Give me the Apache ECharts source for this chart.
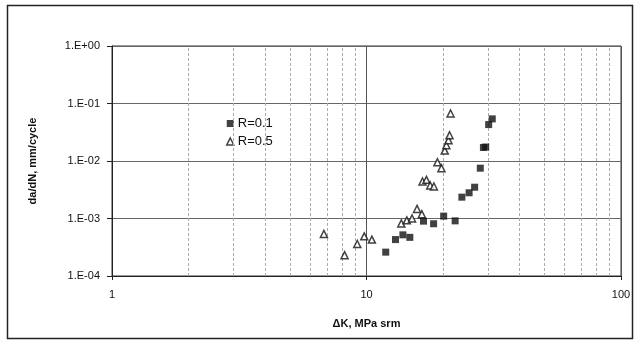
<!DOCTYPE html>
<html>
<head>
<meta charset="utf-8">
<script src="https://cdn.jsdelivr.net/npm/echarts@6/dist/echarts.min.js"></script>
<style>
  html, body { margin: 0; padding: 0; background: #fff; }
  #chart { width: 637px; height: 344px; }
</style>
</head>
<body>
<div id="chart"></div>
<script>
// R=0.1 (filled squares)
const r01X = [11.9, 13.0, 13.9, 14.8, 16.75, 18.35, 20.1, 22.3, 23.7, 25.3, 26.6, 28.0, 28.8, 29.4, 30.2, 31.2]
const r01Y = [2.6e-4, 4.3e-4, 5.2e-4, 4.7e-4, 9.0e-4, 8.1e-4, 1.1e-3, 9.1e-4, 2.35e-3, 2.8e-3, 3.5e-3, 7.5e-3, 1.72e-2, 1.75e-2, 4.3e-2, 5.4e-2]
// R=0.5 (open triangles)
const r05X = [6.8, 8.2, 9.2, 9.8, 10.5, 13.7, 14.4, 15.1, 15.8, 16.5, 16.6, 17.2, 17.8, 18.4, 19.0, 19.7, 20.3, 20.6, 21.0, 21.2, 21.4]
const r05Y = [5.4e-4, 2.3e-4, 3.6e-4, 4.9e-4, 4.3e-4, 8.2e-4, 9.3e-4, 1.0e-3, 1.47e-3, 1.19e-3, 4.4e-3, 4.7e-3, 3.75e-3, 3.6e-3, 9.5e-3, 7.5e-3, 1.52e-2, 1.88e-2, 2.3e-2, 2.8e-2, 6.7e-2]

const yTickLabels = ['1.E-04', '1.E-03', '1.E-02', '1.E-01', '1.E+00']
const xMinorLines = [2, 3, 4, 5, 6, 7, 8, 9, 20, 30, 40, 50, 60, 70, 80, 90]

const font = 'Liberation Sans, Arial, sans-serif'

const zip = (xs, ys) => xs.map((x, i) => [x, ys[i]])

const chart = echarts.init(document.getElementById('chart'))
const option = {
  animation: false,
  backgroundColor: '#fff',
  textStyle: { fontFamily: font },
  graphic: [
    {
      type: 'rect',
      shape: { x: 7.5, y: 5.5, width: 625, height: 333 },
      style: { fill: 'none', stroke: '#222', lineWidth: 1.5 }
    }
  ],
  legend: {
    orient: 'vertical',
    left: 224,
    top: 115,
    padding: [2, 4, 2, 2],
    backgroundColor: '#fff',
    itemGap: 5,
    itemWidth: 7,
    itemHeight: 7,
    textStyle: { fontSize: 13, color: '#111', fontFamily: font, padding: [0, 0, 0, -1] },
    data: [
      { name: 'R=0.1', icon: 'rect', itemStyle: { color: '#111', borderWidth: 0 } },
      { name: 'R=0.5', icon: 'triangle', itemStyle: { color: '#fff', borderColor: '#111', borderWidth: 1.5 } }
    ]
  },
  grid: {
    left: 112,
    right: 16,
    top: 46,
    bottom: 68,
    show: true,
    borderColor: '#333',
    borderWidth: 1
  },
  xAxis: {
    type: 'log',
    logBase: 10,
    min: 1,
    max: 100,
    name: 'ΔK, MPa srm',
    nameLocation: 'middle',
    nameGap: 42,
    nameTextStyle: { fontSize: 11, fontWeight: 'bold', color: '#111' },
    axisLine: { lineStyle: { color: '#222', width: 1 } },
    axisTick: { show: true, inside: false, length: 4, lineStyle: { color: '#222' } },
    axisLabel: { fontSize: 11, color: '#111', margin: 13 },
    splitLine: { show: true, lineStyle: { color: '#555', width: 1 } }
  },
  yAxis: {
    type: 'log',
    logBase: 10,
    min: 1e-4,
    max: 1,
    name: 'da/dN, mm/cycle',
    nameLocation: 'middle',
    nameRotate: 90,
    nameGap: 74,
    nameTextStyle: { fontSize: 11, fontWeight: 'bold', color: '#111' },
    axisLine: { show: true, lineStyle: { color: '#222', width: 1 } },
    axisTick: { show: true, length: 5, lineStyle: { color: '#222' } },
    axisLabel: {
      fontSize: 11,
      color: '#111',
      margin: 12,
      formatter: (v) => yTickLabels[Math.round(Math.log10(v)) + 4]
    },
    splitLine: { show: true, lineStyle: { color: '#666', width: 1 } }
  },
  series: [
    {
      name: 'R=0.1',
      type: 'scatter',
      symbol: 'rect',
      symbolSize: 7,
      itemStyle: { color: '#111' },
      data: zip(r01X, r01Y),
      z: 5
    },
    {
      name: 'R=0.5',
      type: 'scatter',
      symbol: 'triangle',
      symbolSize: 7,
      itemStyle: { color: '#fff', borderColor: '#111', borderWidth: 1.5 },
      data: zip(r05X, r05Y),
      z: 5
    },
    {
      name: 'minor',
      type: 'line',
      data: [],
      silent: true,
      markLine: {
        symbol: 'none',
        silent: true,
        label: { show: false },
        lineStyle: { color: '#aaa', type: [3, 2], width: 1 },
        data: xMinorLines.map((v) => ({ xAxis: v }))
      },
      z: 1
    }
  ]
}
chart.setOption(option)
</script>
</body>
</html>
